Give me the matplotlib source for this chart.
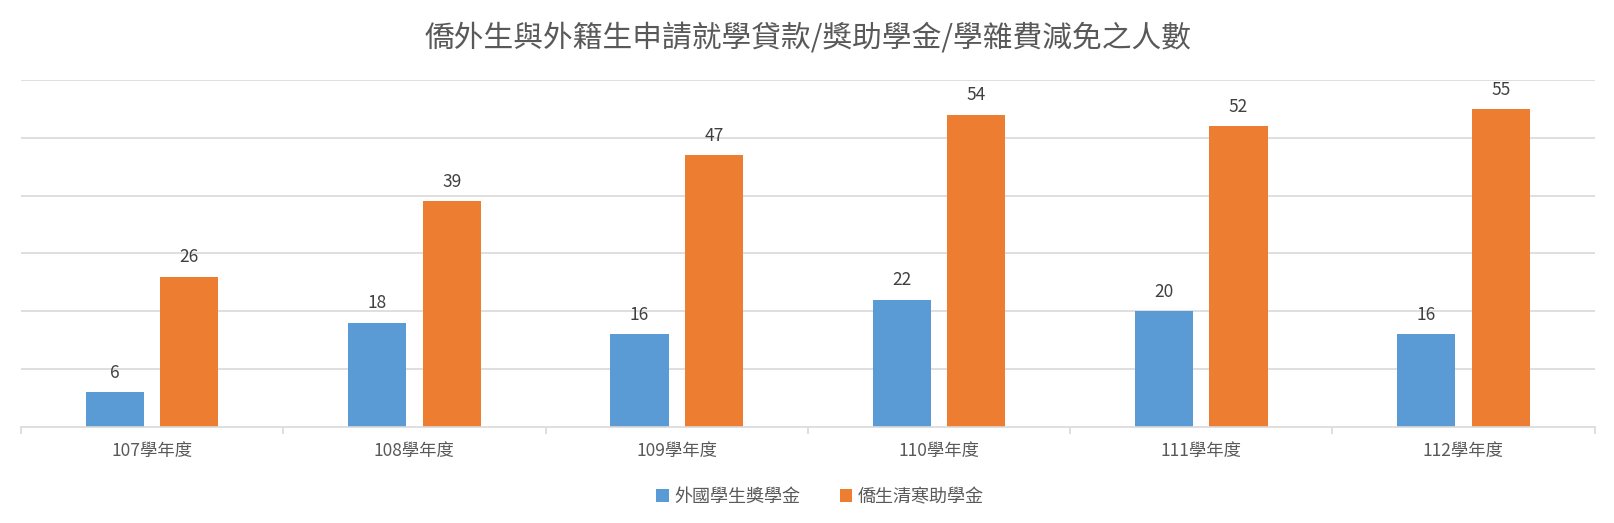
import numpy as np
import matplotlib
matplotlib.use('Agg')
import matplotlib.pyplot as plt

plt.rcParams['font.family'] = ['Noto Sans CJK TC', 'DejaVu Sans']

# chart data
years = ['107學年度', '108學年度', '109學年度', '110學年度', '111學年度', '112學年度']
foreign = [6, 18, 16, 22, 20, 16]
overseas = [26, 39, 47, 54, 52, 55]
series_names = ['外國學生獎學金', '僑生清寒助學金']
title = '僑外生與外籍生申請就學貸款/獎助學金/學雜費減免之人數'

blue = '#5B9BD5'
orange = '#ED7D31'
grid_c = '#D9D9D9'
text_c = '#595959'

fig = plt.figure(figsize=(16.14, 5.23), dpi=100)
ax = fig.add_axes([0.013, 0.1836, 0.975, 0.6634])

x = np.arange(len(years))
w = 0.222
off = 0.142
b1 = ax.bar(x - off, foreign, w, color=blue, label=series_names[0])
b2 = ax.bar(x + off, overseas, w, color=orange, label=series_names[1])

# data labels above bars
for bars in (b1, b2):
    for rect in bars:
        h = rect.get_height()
        ax.annotate(str(int(h)), (rect.get_x() + rect.get_width() / 2, h),
                    xytext=(0, 7.5), textcoords='offset points',
                    ha='center', va='bottom', fontsize=12.5, color='#404040')

ax.set_xlim(-0.5, len(years) - 0.5)
ax.set_ylim(0, 60)
ax.set_yticks(range(10, 61, 10))
ax.yaxis.grid(True, color=grid_c, linewidth=1.2)
ax.set_axisbelow(True)
ax.tick_params(axis='y', left=False, labelleft=False)

# tick marks on category boundaries, labels at centers
ax.set_xticks(np.arange(-0.5, len(years), 1.0))
ax.set_xticklabels([])
ax.set_xticks(x, minor=True)
ax.set_xticklabels(years, minor=True, fontsize=12.5, color=text_c)
ax.tick_params(axis='x', which='major', length=5, color=grid_c, width=1.2)
ax.tick_params(axis='x', which='minor', length=0, pad=11)

for s in ['top', 'right', 'left']:
    ax.spines[s].set_visible(False)
ax.spines['bottom'].set_color(grid_c)
ax.spines['bottom'].set_linewidth(1.2)

fig.text(0.5006, 0.927, title, ha='center', va='center', fontsize=21.4, color=text_c)

fig.legend(handles=[b1, b2], labels=series_names, loc='center', ncol=2,
           bbox_to_anchor=(0.508, 0.05), frameon=False, fontsize=13,
           labelcolor=text_c, handlelength=0.7, handleheight=0.7,
           handletextpad=0.3, columnspacing=2.2)

plt.savefig('out.png', dpi=100)
